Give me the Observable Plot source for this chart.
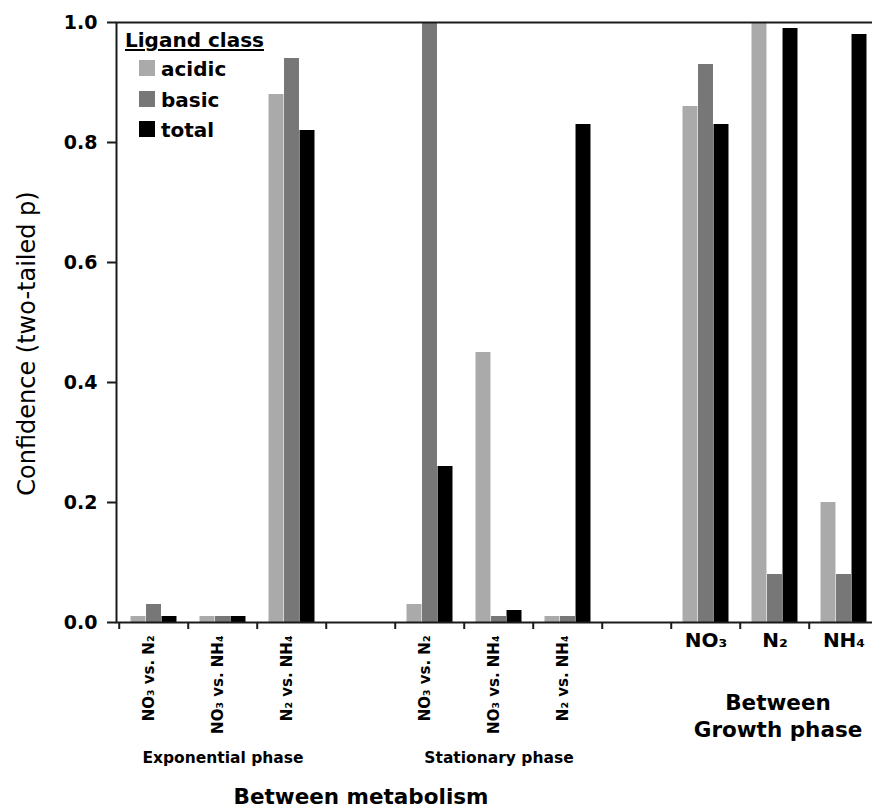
<!DOCTYPE html>
<html><head><meta charset="utf-8">
<script src="https://cdn.jsdelivr.net/npm/d3@7"></script>
<script src="https://cdn.jsdelivr.net/npm/@observablehq/plot@0.6"></script>
<style>
html,body{margin:0;padding:0;background:#fff;overflow:hidden;}
#wrap{position:relative;width:872px;height:808px;font-family:"DejaVu Sans",sans-serif;color:#000;}
.leg{position:absolute;font-weight:bold;font-size:20px;line-height:20px;white-space:nowrap;}
.sw{position:absolute;width:16px;height:16px;}
</style></head><body><div id="wrap"></div>
<script>
// ---- data ----
const slots = ["exp1","exp2","exp3","gap1","sta1","sta2","sta3","gap2","gNO3","gN2","gNH4"];
const series = ["acidic","basic","total"];
const seriesColors = ["#aaaaaa","#777777","#000000"];
const acidic = [0.01, 0.01, 0.88, null, 0.03, 0.45, 0.01, null, 0.86, 1.00, 0.20];
const basic  = [0.03, 0.01, 0.94, null, 1.00, 0.01, 0.01, null, 0.93, 0.08, 0.08];
const total  = [0.01, 0.01, 0.82, null, 0.26, 0.02, 0.83, null, 0.83, 0.99, 0.98];
const metaSlots = ["exp1","exp2","exp3","sta1","sta2","sta3"];
const metaLabels = ["NO₃ vs. N₂","NO₃ vs. NH₄","N₂ vs. NH₄","NO₃ vs. N₂","NO₃ vs. NH₄","N₂ vs. NH₄"];
const growthSlots = ["gNO3","gN2","gNH4"];
const growthLabels = ["NO₃","N₂","NH₄"];
const phaseSlots = ["exp2","sta2"];
const phaseLabels = ["Exponential phase","Stationary phase"];
const yTicks = [0, 0.2, 0.4, 0.6, 0.8, 1.0];
const yLabel = "Confidence (two-tailed p)";
const legendTitle = "Ligand class";

const valuesBySeries = {acidic, basic, total};
const rows = [];
series.forEach(s => valuesBySeries[s].forEach((v, i) => { if (v != null) rows.push({slot: slots[i], series: s, value: v}); }));

// ---- layout ----
const W = 872, H = 808, ML = 116, MR = -9, MT = 22, MB = 186;
const bw = (W - ML - MR) / slots.length;
const barW = bw * 0.223;
const inset = (bw - barW) / 2;
const bold = "bold";

const marks = [];
series.forEach((s, i) => {
  marks.push(Plot.barY(rows.filter(r => r.series === s), {
    x: "slot", y: "value", fill: "series", insetLeft: inset, insetRight: inset, dx: (i - 1) * barW
  }));
});

marks.push(
  Plot.frame({stroke: "#1a1a1a", strokeWidth: 2}),
  Plot.axisY({ticks: yTicks, tickFormat: d3.format(".1f"), tickSize: 9, tickPadding: 10,
    fontSize: 19, fontWeight: bold, stroke: "#1a1a1a", strokeWidth: 2, label: null}),
  Plot.axisX({tickSize: 7, tickFormat: () => "", stroke: "#1a1a1a", strokeWidth: 2, dx: -bw / 2, label: null}),
  Plot.text(metaSlots, {x: d => d, text: (d, i) => metaLabels[i], frameAnchor: "bottom",
    rotate: -90, textAnchor: "end", dy: 13, fontSize: 15, fontWeight: bold}),
  Plot.text(growthSlots, {x: d => d, text: (d, i) => growthLabels[i], frameAnchor: "bottom",
    dy: 24, fontSize: 20, fontWeight: bold}),
  Plot.text(phaseSlots, {x: d => d, text: (d, i) => phaseLabels[i], frameAnchor: "bottom",
    dy: 140, fontSize: 15.5, fontWeight: bold}),
  Plot.text(["gap1"], {x: d => d, text: () => "Between metabolism", frameAnchor: "bottom",
    dy: 181, fontSize: 21.5, fontWeight: bold}),
  Plot.text(["gN2"], {x: d => d, text: () => "Between", frameAnchor: "bottom",
    dx: 3, dy: 87, fontSize: 21.5, fontWeight: bold}),
  Plot.text(["gN2"], {x: d => d, text: () => "Growth phase", frameAnchor: "bottom",
    dx: 3, dy: 114, fontSize: 21.5, fontWeight: bold}),
  Plot.text([yLabel], {text: d => d, frameAnchor: "left", textAnchor: "middle", rotate: -90,
    dx: -89, dy: 21, fontSize: 24})
);

const chart = Plot.plot({
  width: W, height: H,
  marginLeft: ML, marginRight: MR, marginTop: MT, marginBottom: MB,
  style: {fontFamily: "DejaVu Sans, sans-serif", color: "#000", background: "#fff", overflow: "hidden"},
  x: {domain: slots, padding: 0, axis: null},
  y: {domain: [0, 1], axis: null},
  color: {domain: series, range: seriesColors},
  marks
});
const wrap = document.getElementById("wrap");
wrap.appendChild(chart);

// ---- legend (inside the plot area, top-left) ----
function addDiv(cls, css, text) {
  const d = document.createElement("div");
  d.className = cls;
  Object.assign(d.style, css);
  if (text != null) d.textContent = text;
  wrap.appendChild(d);
  return d;
}
addDiv("leg", {left: "125px", top: "30px", textDecoration: "underline", textDecorationThickness: "2px", textUnderlineOffset: "2px"}, legendTitle);
series.forEach((s, i) => {
  const top = 60 + i * 30.5;
  addDiv("sw", {left: "139px", top: top + "px", background: seriesColors[i]});
  addDiv("leg", {left: "161px", top: (top - 1) + "px"}, s);
});
</script>
</body></html>
